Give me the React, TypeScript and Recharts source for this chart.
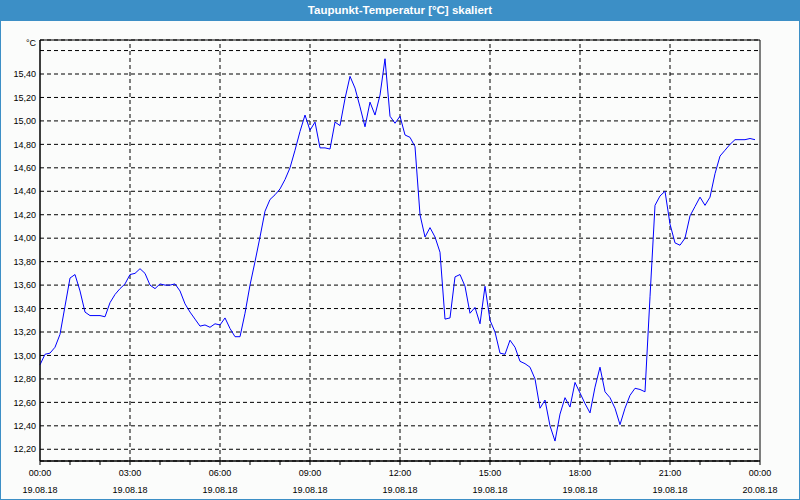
import { LineChart, Line, XAxis, YAxis, CartesianGrid, ReferenceLine, ReferenceArea } from "recharts"

// dew point readings, one every 10 minutes from 19.08.18 00:00
const stepMinutes = 10
const dewPoint = [
  12.92, 13.01, 13.02, 13.07, 13.18, 13.42, 13.66, 13.69, 13.55, 13.37,
  13.34, 13.34, 13.34, 13.33, 13.45, 13.52, 13.57, 13.61, 13.69, 13.7,
  13.74, 13.7, 13.6, 13.57, 13.61, 13.6, 13.6, 13.61, 13.55, 13.44,
  13.37, 13.31, 13.25, 13.26, 13.24, 13.27, 13.26, 13.32, 13.23, 13.16,
  13.16, 13.36, 13.6, 13.8, 14.01, 14.23, 14.33, 14.37, 14.42, 14.5,
  14.6, 14.75, 14.91, 15.05, 14.92, 14.99, 14.77, 14.77, 14.76, 14.99,
  14.96, 15.19, 15.38, 15.28, 15.12, 14.95, 15.16, 15.05, 15.22, 15.53,
  15.04, 14.98, 15.04, 14.88, 14.86, 14.78, 14.2, 14.01, 14.09, 14.01,
  13.88, 13.31, 13.32, 13.67, 13.69, 13.59, 13.36, 13.41, 13.27, 13.59,
  13.3, 13.2, 13.02, 13.01, 13.13, 13.07, 12.95, 12.93, 12.9, 12.8,
  12.55, 12.62, 12.4, 12.27, 12.5, 12.64, 12.56, 12.77, 12.68, 12.59,
  12.51, 12.73, 12.9, 12.69, 12.64, 12.55, 12.41, 12.55, 12.66, 12.72,
  12.71, 12.69, 13.5, 14.28, 14.36, 14.4, 14.12, 13.96, 13.94, 14.0,
  14.19, 14.27, 14.35, 14.28, 14.35, 14.55, 14.7, 14.75, 14.8, 14.84,
  14.84, 14.84, 14.85, 14.84,
]

const hourTicks = [0, 60, 120, 180, 240, 300, 360, 420, 480, 540, 600, 660, 720, 780, 840, 900, 960, 1020, 1080, 1140, 1200, 1260, 1320, 1380, 1440]
const labelTicks = [0, 180, 360, 540, 720, 900, 1080, 1260, 1440]
const timeLabels = ["00:00", "03:00", "06:00", "09:00", "12:00", "15:00", "18:00", "21:00", "00:00"]
const dateLabels = ["19.08.18", "19.08.18", "19.08.18", "19.08.18", "19.08.18", "19.08.18", "19.08.18", "19.08.18", "20.08.18"]
const yTicks = [12.2, 12.4, 12.6, 12.8, 13.0, 13.2, 13.4, 13.6, 13.8, 14.0, 14.2, 14.4, 14.6, 14.8, 15.0, 15.2, 15.4, 15.6]
const yMin = 12.1
const yMax = 15.69

const data = dewPoint.map((v, i) => ({ t: i * stepMinutes, v }))

const frameBlue = "#3c8fc6"
const font = "'Liberation Sans', Arial, sans-serif"

function TimeTick(props: any) {
  const { x, y, payload } = props
  const idx = labelTicks.indexOf(payload.value)
  if (idx < 0) return null
  return (
    <text x={x} y={y} textAnchor="middle" fontSize={9} fontFamily={font} fill="#000">
      <tspan x={x} dy={9}>{timeLabels[idx]}</tspan>
      <tspan x={x} dy={17}>{dateLabels[idx]}</tspan>
    </text>
  )
}

export default function App() {
  return (
    <div style={{ position: "fixed", top: 0, left: 0, width: 800, height: 500, background: "#fbfcfb", overflow: "hidden" }}>
      <div
        style={{
          position: "absolute", top: 0, left: 0, width: 800, height: 21, background: frameBlue,
          color: "#fff", fontFamily: font, fontSize: 11.5, fontWeight: "bold", lineHeight: "21px", textAlign: "center", zIndex: 2,
        }}
      >
        Taupunkt-Temperatur [°C] skaliert
      </div>

      <div style={{ position: "absolute", top: 38, left: 26, fontFamily: font, fontSize: 9, color: "#000", zIndex: 2 }}>°C</div>

      <div style={{ position: "absolute", top: 0, left: 0 }}>
        <LineChart width={800} height={500} data={data} margin={{ top: 40, right: 40, bottom: 3, left: 0 }}>
          <CartesianGrid vertical={false} stroke="#000" strokeDasharray="4 3" />
          {labelTicks.slice(1, -1).map((t) => (
            <ReferenceLine key={t} x={t} stroke="#000" strokeDasharray="4 3" />
          ))}
          <ReferenceArea x1={0} x2={1440} y1={yMin} y2={yMax} fill="none" stroke="#000" strokeWidth={1} />
          <XAxis
            dataKey="t"
            type="number"
            domain={[0, 1440]}
            ticks={hourTicks}
            interval={0}
            height={36}
            axisLine={{ stroke: "#000" }}
            tickLine={{ stroke: "#000" }}
            tickSize={4}
            tickMargin={2}
            tick={<TimeTick />}
          />
          <YAxis
            type="number"
            domain={[yMin, yMax]}
            allowDataOverflow
            ticks={yTicks}
            interval={0}
            width={40}
            axisLine={{ stroke: "#000" }}
            tickLine={false}
            tickSize={0}
            tickMargin={4}
            tick={{ fontSize: 9, fontFamily: font, fill: "#000" }}
            tickFormatter={(v: number) => (v > 15.5 ? "" : v.toFixed(2).replace(".", ","))}
          />
          <Line type="linear" dataKey="v" stroke="#0000ff" strokeWidth={1} dot={false} isAnimationActive={false} />
        </LineChart>
      </div>

      <div style={{ position: "absolute", inset: 0, border: `1px solid ${frameBlue}`, pointerEvents: "none", zIndex: 3 }} />
    </div>
  )
}
